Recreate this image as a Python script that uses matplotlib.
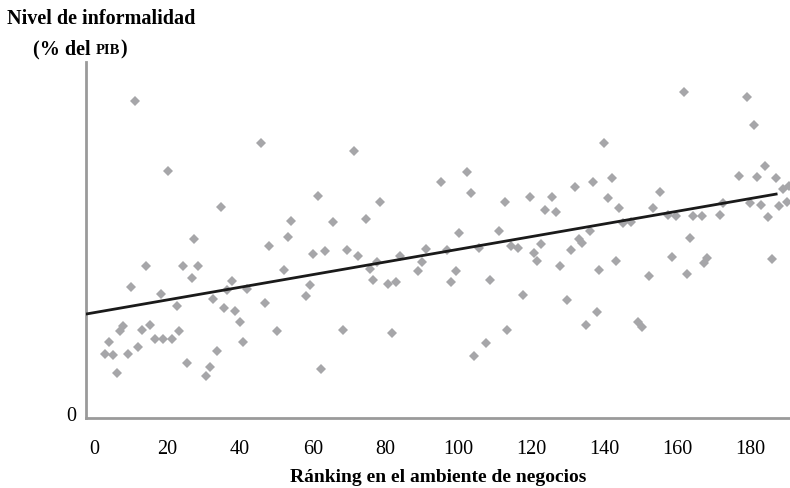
import matplotlib
matplotlib.use("Agg")
import matplotlib.pyplot as plt
from matplotlib.transforms import ScaledTranslation

# Ranking in ease of doing business (x) vs informality level (% of GDP, arbitrary 0-100 scale)
ranking = [
    11.2, 20.2, 34.8, 27.4, 14.3, 24.5, 28.6, 26.8, 10.2, 37.8,
    18.4, 41.9, 22.7, 32.7, 35.7, 38.7, 40.1, 40.8, 8.0, 7.1,
    4.2, 13.1, 15.4, 16.7, 19.0, 21.3, 23.4, 3.0, 5.1, 9.2,
    12.2, 6.2, 25.6, 33.7, 31.8, 30.6, 36.5,
    45.8, 71.4, 61.3, 78.5, 54.0, 65.5, 74.5, 53.1, 48.1, 60.2,
    63.4, 69.5, 72.5, 77.6, 75.7, 83.8, 91.0, 89.9, 89.0, 52.1,
    59.3, 58.2, 76.6, 80.7, 82.8, 46.9, 50.1, 68.4, 81.7, 62.3,
    95.2, 102.3, 103.3, 112.6, 119.6, 125.7, 123.6, 126.7, 131.8, 136.9,
    100.2, 111.2, 96.8, 105.7, 114.3, 116.4, 122.6, 120.7, 121.6, 127.8,
    130.9, 133.0, 133.9, 136.1, 99.3, 97.9, 108.5, 117.6, 129.7, 113.4,
    107.4, 104.3, 137.9, 135.0, 138.6,
    161.7, 179.1, 181.1, 140.0, 142.0, 140.9, 144.1, 155.3, 153.3, 157.3,
    159.7, 164.4, 166.7, 171.7, 172.6, 176.8, 181.8, 184.0, 187.1, 189.1,
    190.5, 180.0, 183.0, 188.0, 190.2, 185.0, 145.2, 147.2, 163.5, 185.9,
    158.5, 168.1, 167.4, 152.3, 162.6, 143.1, 149.3, 150.3,
]
informalidad = [
    89.1, 69.3, 59.2, 50.3, 42.6, 42.6, 42.8, 39.2, 36.9, 38.6,
    34.8, 36.2, 31.5, 33.4, 30.8, 30.0, 26.9, 21.4, 25.9, 24.5,
    21.4, 24.7, 26.1, 22.2, 22.2, 22.2, 24.5, 18.0, 17.7, 18.0,
    19.9, 12.6, 15.4, 18.9, 14.2, 11.9, 36.0,
    77.2, 74.9, 62.4, 60.8, 55.3, 55.1, 55.9, 50.9, 48.2, 46.1,
    47.0, 47.2, 45.4, 43.7, 41.9, 45.6, 47.5, 43.9, 41.2, 41.7,
    37.4, 34.2, 38.8, 37.6, 38.3, 32.3, 24.4, 24.8, 23.9, 13.8,
    66.4, 69.0, 63.2, 60.6, 62.0, 62.1, 58.5, 57.9, 65.0, 66.2,
    52.0, 52.6, 47.3, 47.8, 48.2, 47.8, 48.9, 46.3, 44.0, 42.6,
    47.3, 50.3, 49.2, 52.4, 41.4, 38.3, 38.8, 34.6, 33.2, 24.8,
    21.0, 17.5, 29.9, 26.1, 41.6,
    91.5, 90.3, 82.3, 77.2, 67.4, 61.7, 59.0, 63.6, 59.0, 57.1,
    56.8, 56.8, 56.8, 57.0, 60.3, 68.1, 67.6, 70.7, 67.3, 64.3,
    65.3, 60.4, 59.9, 59.6, 60.8, 56.4, 54.8, 55.0, 50.6, 44.7,
    45.1, 44.9, 43.5, 40.0, 40.4, 44.0, 26.9, 25.5,
]

# Fitted trend line (endpoints)
trend_x = [-2.2, 187.1]
trend_y = [29.2, 62.9]

x_ticks = [0, 20, 40, 60, 80, 100, 120, 140, 160, 180]
y_ticks = [0]

title_line1 = "Nivel de informalidad"
x_label = "Ránking en el ambiente de negocios"

serif = ["Liberation Serif", "DejaVu Serif"]

fig = plt.figure(figsize=(7.9, 4.89), dpi=100)
ax = fig.add_axes([86 / 790, 70 / 489, 1 - 86 / 790, (419 - 63) / 489])

ax.plot(ranking, informalidad, linestyle="none", marker="D", markersize=5.2,
        color="#a6a6a9", markeredgewidth=0, zorder=2)
ax.plot(trend_x, trend_y, color="#1a1a1a", linewidth=2.0, zorder=3)

ax.set_xlim(-2.2, 190.9)
ax.set_ylim(0, 100)

for s in ["top", "right"]:
    ax.spines[s].set_visible(False)
for s in ["left", "bottom"]:
    ax.spines[s].set_color("#9a9a9a")
    ax.spines[s].set_linewidth(2.0)

ax.set_xticks(x_ticks)
ax.set_xticklabels([str(t) for t in x_ticks], fontfamily=serif, fontsize=14.5)
ax.set_yticks(y_ticks)
ax.set_yticklabels([str(t) for t in y_ticks], fontfamily=serif, fontsize=14.5)
ax.tick_params(axis="x", length=0, pad=15)
ax.tick_params(axis="y", length=0, pad=7)
for lbl in ax.get_yticklabels():
    lbl.set_transform(lbl.get_transform() + ScaledTranslation(0, 5 / 100, fig.dpi_scale_trans))

ax.set_xlabel(x_label, fontfamily=serif, fontsize=14, fontweight="bold", labelpad=7)

# Title in two lines, with "PIB" in small caps
fig.text(7 / 790, 1 - 19 / 489, title_line1, fontfamily=serif, fontsize=14.5,
         fontweight="bold", ha="left", va="center")

renderer = fig.canvas.get_renderer()
x0 = 33 / 790
yb = 1 - 54 / 489
t1 = fig.text(x0, yb, "(% del ", fontfamily=serif, fontsize=14.5,
              fontweight="bold", ha="left", va="baseline")
bb = t1.get_window_extent(renderer)
t2 = fig.text(bb.x1 / fig.bbox.width, yb, "PIB", fontfamily=serif, fontsize=10.5,
              fontweight="bold", ha="left", va="baseline")
bb2 = t2.get_window_extent(renderer)
fig.text(bb2.x1 / fig.bbox.width + 0.0008, yb, ")", fontfamily=serif, fontsize=14.5,
         fontweight="bold", ha="left", va="baseline")

fig.savefig("out.png", dpi=100)
